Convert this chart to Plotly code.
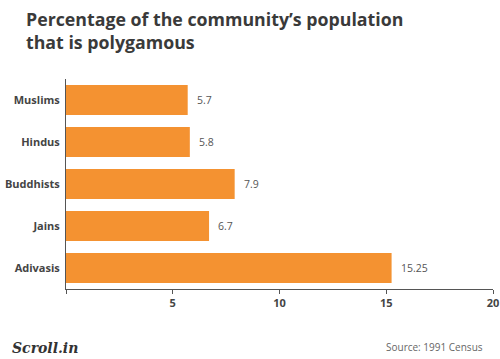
import plotly.graph_objects as go

categories = ["Muslims", "Hindus", "Buddhists", "Jains", "Adivasis"]
values = [5.7, 5.8, 7.9, 6.7, 15.25]
value_labels = ["5.7", "5.8", "7.9", "6.7", "15.25"]
tick_vals = [0, 5, 10, 15, 20]
tick_text = ["", "5", "10", "15", "20"]
title_lines = ["Percentage of the community’s population", "that is polygamous"]

W, H = 500, 359
ML, MR, MT, MB = 66, 7, 79, 70
PH = H - MT - MB
PW = W - ML - MR

def px_y(py):
    return (H - MB - py) / PH

def px_x(px):
    return (px - ML) / PW

fig = go.Figure()
fig.add_trace(go.Bar(
    y=categories, x=values, orientation="h",
    marker=dict(color="#F49231", line=dict(width=0)),
    hoverinfo="skip",
))

for c, v, t in zip(categories, values, value_labels):
    fig.add_annotation(x=v, y=c, text=t, showarrow=False, xanchor="left",
                       xshift=7, font=dict(family="Open Sans", size=10.5, color="#555555"))

fig.update_layout(
    width=W, height=H,
    margin=dict(l=ML, r=MR, t=MT, b=MB, autoexpand=False),
    paper_bgcolor="white", plot_bgcolor="white",
    bargap=0.29,
    showlegend=False,
    xaxis=dict(
        range=[0, 20], tickvals=tick_vals, ticktext=tick_text,
        showgrid=False, zeroline=False, showline=True, linecolor="#555555", linewidth=1,
        ticks="outside", ticklen=4, tickcolor="#555555",
        tickfont=dict(family="Open Sans", size=11, color="#444444", weight="bold"),
        fixedrange=True, automargin=False,
    ),
    yaxis=dict(
        categoryorder="array", categoryarray=categories[::-1],
        showgrid=False, zeroline=False, showline=True, linecolor="#555555", linewidth=1,
        ticks="", ticklabelstandoff=3,
        tickfont=dict(family="Open Sans", size=11, color="#444444", weight="bold"),
        fixedrange=True, automargin=False,
    ),
)

for i, line in enumerate(title_lines):
    fig.add_annotation(xref="paper", yref="paper", x=px_x(24), y=px_y(5 + 22.5 * i),
                       xanchor="left", yanchor="top", align="left",
                       text="<b>" + line + "</b>", showarrow=False,
                       font=dict(family="Open Sans", size=17.75, color="#3a3a3a"))

fig.add_annotation(xref="paper", yref="paper", x=px_x(10), y=px_y(348), xanchor="left", yanchor="middle",
                   text="<i><b>Scroll.in</b></i>", showarrow=False,
                   font=dict(family="DejaVu Serif", size=14, color="#333333"))
fig.add_annotation(xref="paper", yref="paper", x=px_x(485), y=px_y(347), xanchor="right", yanchor="middle",
                   text="Source: 1991 Census", showarrow=False,
                   font=dict(family="Open Sans", size=10, color="#666666"))

fig.write_html("out.html")
